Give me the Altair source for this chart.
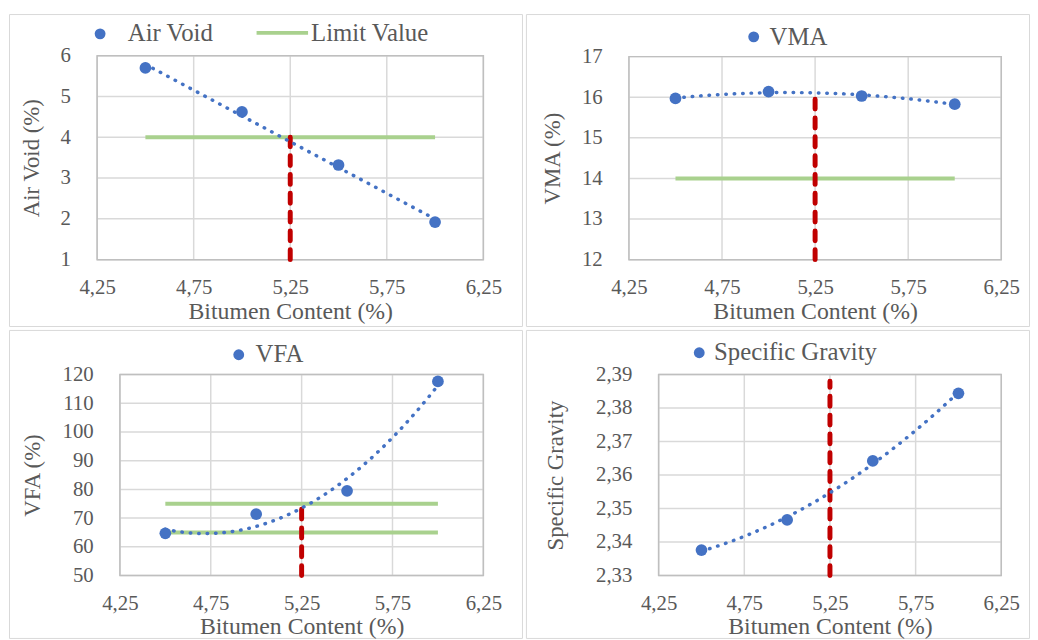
import altair as alt
import pandas as pd

# ---------------- data ----------------
bitumen = [4.5, 5.0, 5.5, 6.0]
air_void = [5.70, 4.62, 3.32, 1.92]
vma = [15.97, 16.14, 16.03, 15.83]
vfa = [64.7, 71.4, 79.5, 117.6]
specific_gravity = [2.3376, 2.3466, 2.3642, 2.3844]

x_ticks = [4.25, 4.75, 5.25, 5.75, 6.25]
limit_extent = [4.5, 6.0]
optimum_bitumen = [5.25]

air_void_ticks = [1, 2, 3, 4, 5, 6]
vma_ticks = [12, 13, 14, 15, 16, 17]
vfa_ticks = [50, 60, 70, 80, 90, 100, 110, 120]
sg_ticks = [2.33, 2.34, 2.35, 2.36, 2.37, 2.38, 2.39]

air_void_limits = [4]
vma_limits = [14]
vfa_limits = [65, 75]
sg_limits = []

air_void_opt = [1, 4]
vma_opt = [12, 16.0]
vfa_opt = [50, 74]
sg_opt = [2.33, 2.388]

# ---------------- style ----------------
FONT = "Liberation Serif"
TXT = "#595959"
BLUE = "#4472C4"
GREEN = "#A9D18E"
RED = "#C00000"
GRID = "#d9d9d9"
BORDER = "#bfbfbf"
COMMA = "replace(format(datum.value, '.2f'), '.', ',')"


def make_panel(values, ticks, ytitle, comma_y, limits, opt, method, geom, legend):
    W, H = geom["w"], geom["h"]
    L, R, T, B = geom["frame"]
    FW, FH = L + W + R, T + H + B
    xdom = [x_ticks[0], x_ticks[-1]]
    ydom = [ticks[0], ticks[-1]]

    def X(field):
        return alt.X(f"{field}:Q",
                     scale=alt.Scale(domain=xdom, range=[L, L + W], nice=False, zero=False),
                     axis=alt.Axis(values=x_ticks, labelExpr=COMMA, offset=-B,
                                   title="Bitumen Content (%)",
                                   titleY=59, titleBaseline="alphabetic"))

    def Y(field):
        ax = dict(values=ticks, title=ytitle, titleX=geom["tx"], titleY=T + H / 2,
                  offset=-L, titleAngle=270, titleAlign="center",
                  titleBaseline="middle")
        if comma_y:
            ax["labelExpr"] = COMMA
        return alt.Y(f"{field}:Q",
                     scale=alt.Scale(domain=ydom, range=[T + H, T], nice=False,
                                     zero=False),
                     axis=alt.Axis(**ax))

    one = pd.DataFrame({"a": [0]})
    df = pd.DataFrame({"x": bitumen, "y": values})

    layers = []
    # gridlines and plot border, drawn through the scales from the tick lists
    vgrid = pd.DataFrame({"x": x_ticks, "y0": [ydom[0]] * len(x_ticks),
                          "y1": [ydom[1]] * len(x_ticks)})
    layers.append(alt.Chart(vgrid).mark_rule(color=GRID, strokeWidth=1.5).encode(
        x=X("x"), y=Y("y0"), y2="y1"))
    hgrid = pd.DataFrame({"y": ticks, "x0": [xdom[0]] * len(ticks),
                          "x1": [xdom[1]] * len(ticks)})
    layers.append(alt.Chart(hgrid).mark_rule(color=GRID, strokeWidth=1.5).encode(
        y=Y("y"), x=X("x0"), x2="x1"))
    border = pd.DataFrame({"x0": [xdom[0]], "x1": [xdom[1]],
                           "y0": [ydom[0]], "y1": [ydom[1]]})
    layers.append(alt.Chart(border).mark_rect(fillOpacity=0, stroke=BORDER,
                                              strokeWidth=1.5).encode(
        x=X("x0"), x2="x1", y=Y("y0"), y2="y1"))

    if limits:
        lim = pd.DataFrame({"x": [limit_extent[0]] * len(limits),
                            "x2": [limit_extent[1]] * len(limits),
                            "y": limits})
        layers.append(alt.Chart(lim).mark_rule(color=GREEN, strokeWidth=4).encode(
            x=X("x"), x2="x2", y=Y("y")))

    red = pd.DataFrame({"x": optimum_bitumen, "lo": [opt[0]], "hi": [opt[1]]})
    layers.append(alt.Chart(red).mark_rule(color=RED, strokeWidth=5, strokeDash=[10, 9],
                                           strokeCap="round").encode(
        x=X("x"), y=Y("lo"), y2="hi"))

    if method == "linear":
        reg = alt.Chart(df).transform_regression("x", "y", method="linear",
                                                 extent=limit_extent)
    else:
        reg = alt.Chart(df).transform_regression("x", "y", method="poly", order=2,
                                                 extent=limit_extent)
    layers.append(reg.mark_line(color=BLUE, strokeWidth=3.5, strokeDash=[0.5, 8],
                                strokeCap="round").encode(x=X("x"), y=Y("y")))

    layers.append(alt.Chart(df).mark_point(filled=True, size=140, color=BLUE,
                                           opacity=1).encode(x=X("x"), y=Y("y")))

    # legend decorations (positions relative to the panel frame)
    for item in legend:
        kind = item[0]
        if kind == "dot":
            _, dx, dy = item
            layers.append(alt.Chart(one).mark_point(filled=True, size=120, color=BLUE,
                                                    opacity=1).encode(
                x=alt.value(dx), y=alt.value(dy)))
        elif kind == "line":
            _, x1, x2, dy = item
            layers.append(alt.Chart(one).mark_rule(color=GREEN, strokeWidth=4).encode(
                x=alt.value(x1), x2=alt.value(x2), y=alt.value(dy)))
        else:
            _, tx, ty, txt = item
            layers.append(alt.Chart(one).mark_text(
                text=txt, align="left", baseline="alphabetic", font=FONT,
                fontSize=25, color=TXT).encode(x=alt.value(tx), y=alt.value(ty)))

    return alt.layer(*layers).properties(width=FW, height=FH)


# frame = (left, right, top, bottom) margins around the plot area
tl = make_panel(air_void, air_void_ticks, "Air Void (%)", False, air_void_limits,
                air_void_opt, "linear",
                dict(w=390, h=206, frame=(89, 39, 42, 67), tx=-66),
                [("dot", 92, 20), ("text", 120, 27, "Air Void"),
                 ("line", 250, 302, 19), ("text", 305, 27, "Limit Value")])

tr = make_panel(vma, vma_ticks, "VMA (%)", False, vma_limits, vma_opt, "poly",
                dict(w=376, h=205, frame=(104, 28, 43, 67), tx=-77),
                [("dot", 230, 23), ("text", 246, 31, "VMA")])

bl = make_panel(vfa, vfa_ticks, "VFA (%)", False, vfa_limits, vfa_opt, "poly",
                dict(w=367, h=203, frame=(112, 39, 45, 63), tx=-88),
                [("dot", 232, 25), ("text", 249, 32, "VFA")])

br = make_panel(specific_gravity, sg_ticks, "Specific Gravity", True, sg_limits,
                sg_opt, "poly",
                dict(w=346, h=203, frame=(134, 28, 45, 63), tx=-104),
                [("dot", 175, 23), ("text", 190, 30, "Specific Gravity")])

chart = alt.concat(tl, tr, bl, br, columns=2, spacing=2, align="each",
                   bounds="full").properties(
    padding={"left": 0, "top": 2, "right": 0, "bottom": 0}
).configure(font=FONT).configure_axis(
    labelFont=FONT, titleFont=FONT, labelColor=TXT, titleColor=TXT,
    labelFontSize=21, titleFontWeight="normal", domain=False, ticks=False,
    grid=False, labelFlush=False, labelOverlap=False,
).configure_axisX(labelPadding=17, titleFontSize=24).configure_axisY(
    labelPadding=27, titleFontSize=23
).configure_view(stroke=GRID, strokeWidth=1)

chart.save("out.html", embed_options={"renderer": "svg", "actions": False})
